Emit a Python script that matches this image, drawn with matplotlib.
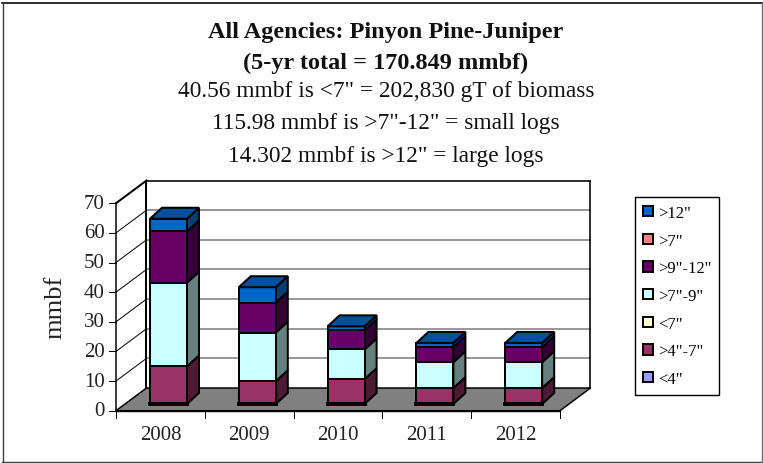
import matplotlib

matplotlib.use("Agg")
import matplotlib.pyplot as plt
from matplotlib.patches import Patch, Polygon

W, H = 763, 464

years = ["2008", "2009", "2010", "2011", "2012"]
lt4 = [0, 0, 0, 0, 0]
gt4_7 = [12.7, 7.7, 8.4, 5.4, 5.4]
lt7 = [0, 0, 0, 0, 0]
gt7_9 = [28.2, 16.4, 10.0, 8.7, 8.7]
gt9_12 = [17.3, 10.1, 6.4, 5.1, 5.1]
gt7 = [0, 0, 0, 0, 0]
gt12 = [4.3, 5.2, 1.4, 1.4, 1.4]
y_ticks = [0, 10, 20, 30, 40, 50, 60, 70]

# bottom to top: label, values, front, side, top
series = [
    ('<4"', lt4, "#9999FF", "#4D4D80", "#737399"),
    ('>4"-7"', gt4_7, "#993366", "#4D1A33", "#73264D"),
    ('<7"', lt7, "#FFFFCC", "#808066", "#999980"),
    ('>7"-9"', gt7_9, "#CCFFFF", "#668080", "#99BFBF"),
    ('>9"-12"', gt9_12, "#660066", "#330033", "#4D004D"),
    ('>7"', gt7, "#FF8080", "#804040", "#BF6060"),
    ('>12"', gt12, "#0066CC", "#003F73", "#00509C"),
]

# plot frame in pixels
X0, Y0 = 116.0, 411.7
CAT_W = 88.8
UNIT = 2.964
DEPTH_X, DEPTH_Y = 30.5 / CAT_W, 22.7 / UNIT
BAR_LEFT, BAR_W = 34.0 / CAT_W, 37.0 / CAT_W
BAR_BASE = 6.7 / UNIT
BAR_DX, BAR_DY = 12.0 / CAT_W, 11.0 / UNIT

PX = 0.72  # one pixel in points at dpi 100

plt.rcParams["font.family"] = ["Liberation Serif", "DejaVu Serif"]
fig = plt.figure(figsize=(W / 100, H / 100), dpi=100)
ax = fig.add_axes([0, 0, 1, 1])
ax.set_xlim(-X0 / CAT_W, (W - X0) / CAT_W)
ax.set_ylim((Y0 - H) / UNIT, Y0 / UNIT)
ax.axis("off")


def fx(px):
    return px / W


def fy(py):
    return 1 - py / H


def wall(x, y, d):
    """Shift a front plane point back by the depth fraction d."""
    return x + DEPTH_X * d, y + DEPTH_Y * d


def bar(x, y, d):
    """Point on a bar, d = 0 on its front face and 1 on its back."""
    return x + BAR_DX * d, y + BAR_BASE + BAR_DY * d


def poly(points, face, lw=2.0, z=2):
    ax.add_patch(
        Polygon(points, closed=True, facecolor=face, edgecolor="black", linewidth=lw * PX, zorder=z, joinstyle="miter")
    )


def line(p, q, color="black", lw=1.0, z=1):
    ax.plot(*zip(p, q), color=color, lw=lw * PX, zorder=z, solid_capstyle="projecting")


def border(x0, y0, x1, y1, color, lw):
    fig.add_artist(plt.Line2D([fx(x0), fx(x1)], [fy(y0), fy(y1)], color=color, lw=lw * PX))


n = len(years)
top = y_ticks[-1]

# outer chart border
border(2, 4, 762, 4, "black", 1.6)
border(2, 463, 762, 463, "#404040", 1.4)
border(2.5, 4, 2.5, 463, "#404040", 1.4)
border(762, 4, 762, 463, "#707070", 1.4)

# floor and walls
poly([wall(0, 0, 0), wall(n, 0, 0), wall(n, 0, 1), wall(0, 0, 1)], "#808080", lw=1.5)
for v in y_ticks[1:]:
    line(wall(0, v, 1), wall(n, v, 1), color="#808080" if v < top else "black", lw=1.6)
    line(wall(0, v, 0), wall(0, v, 1), lw=2 if v == top else 1)
line(wall(0, 0, 1), wall(0, top, 1), lw=2)
line(wall(n, 0, 1), wall(n, top, 1), lw=1.6)
line(wall(0, 0, 0), wall(0, top, 0), lw=1.5)

# axis ticks and labels
line((0, 0), (n, 0), lw=1.4, z=3)
for i in range(n + 1):
    line((i, 0), (i, -7 / UNIT))
for i, year in enumerate(years):
    ax.text(i + 0.5, -24 / UNIT, year, ha="center", va="center", fontsize=15, color="#222222")
for v in y_ticks:
    line((-7 / CAT_W, v), (0, v))
    ax.text(-11 / CAT_W, v, str(v), ha="right", va="center", fontsize=15, color="#222222")
fig.text(fx(55), fy(307), "mmbf", rotation=90, ha="center", va="center", fontsize=19, color="#222222")

# stacked oblique bars
for i in range(n):
    left = i + BAR_LEFT
    right = left + BAR_W
    base = 0.0
    cap = None
    z = 4 + i
    for label, values, front, side, top_col in series:
        v = values[i]
        if v == 0:
            continue
        lo, hi = base, base + v
        poly([bar(right, lo, 0), bar(right, lo, 1), bar(right, hi, 1), bar(right, hi, 0)], side, z=z)
        poly([bar(left, lo, 0), bar(right, lo, 0), bar(right, hi, 0), bar(left, hi, 0)], front, z=z)
        base = hi
        cap = top_col
    poly([bar(left, base, 0), bar(right, base, 0), bar(right, base, 1), bar(left, base, 1)], cap, z=z)
    # heavy foot line
    line(bar(left, 0, 0), bar(right, 0, 0), lw=4, z=12)

# titles
for py, txt, weight, size in [
    (38, "All Agencies: Pinyon Pine-Juniper", "bold", 17.5),
    (69, "(5-yr total = 170.849 mmbf)", "bold", 17.5),
    (97, '40.56 mmbf is <7" = 202,830 gT of biomass', "normal", 16.8),
    (129, '115.98 mmbf is >7"-12" = small logs', "normal", 16.8),
    (162, '14.302 mmbf is >12" = large logs', "normal", 16.8),
]:
    fig.text(fx(386), fy(py), txt, ha="center", va="baseline", fontsize=size, fontweight=weight, color="#111111")

# legend, top entry first
handles = [Patch(facecolor=s[2], edgecolor="black", linewidth=2 * PX, label=s[0]) for s in reversed(series)]
fig.legend(
    handles=handles,
    loc="upper left",
    bbox_to_anchor=(fx(635), fy(198)),
    bbox_transform=fig.transFigure,
    fontsize=12,
    frameon=True,
    fancybox=False,
    framealpha=1,
    edgecolor="black",
    handlelength=0.6,
    handleheight=0.6,
    handletextpad=0.3,
    labelspacing=0.7,
    borderpad=0.48,
    borderaxespad=0,
)

fig.savefig("out.png", dpi=100)
